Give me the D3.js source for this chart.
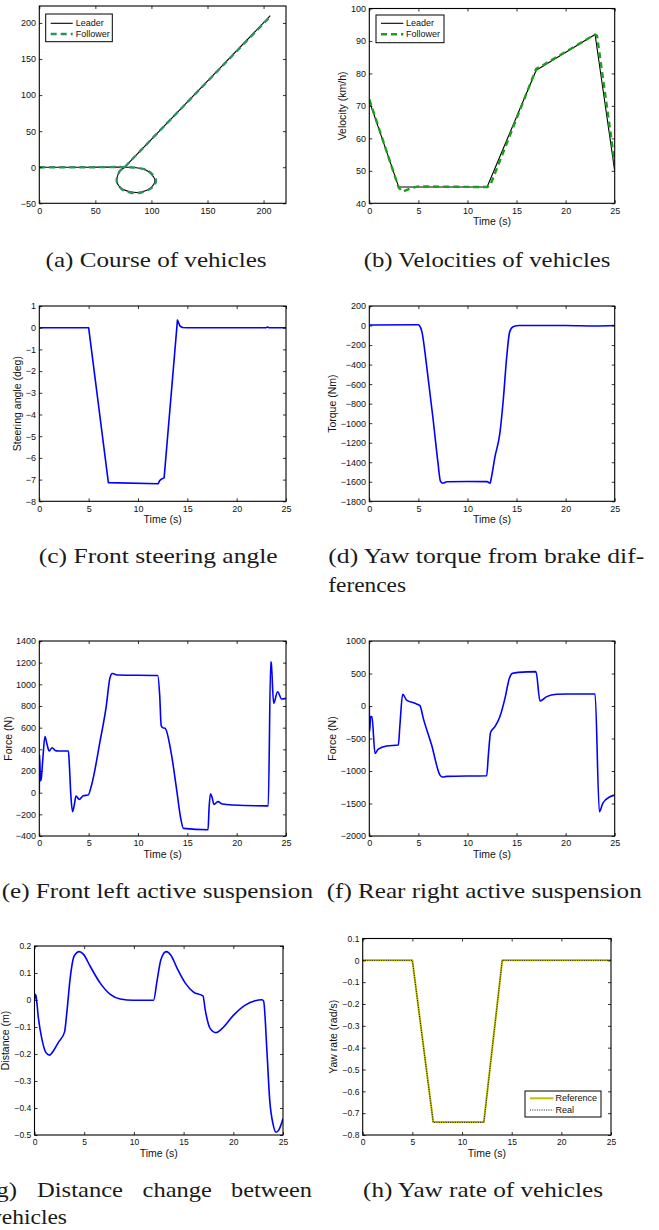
<!DOCTYPE html>
<html>
<head>
<meta charset="utf-8">
<script src="https://cdn.jsdelivr.net/npm/d3@7/dist/d3.min.js"></script>
<style>
html,body{margin:0;padding:0;background:#fff;}
svg{display:block;}
</style>
</head>
<body>
<svg id="fig" width="659" height="1230"></svg>
<script>
// ================= DATA =================
// (a) Course of vehicles (x [m], y [m])
const courseLeaderX = [0, 40, 80, 88, 95, 100, 103, 102, 98, 92, 87, 81, 75, 71, 69, 70, 72, 76, 80, 206];
const courseLeaderY = [0, 0, 0, -1, -4, -10, -17, -24, -30, -34, -35, -34, -31, -26, -19, -11, -5, 0, 6.5, 210];
const courseFollowerX = [0, 40, 80, 88, 96, 101, 104, 103, 99, 93, 87, 81, 75, 71, 69, 70, 72, 76, 80, 206];
const courseFollowerY = [0, 0, 0, -1, -4, -10, -17, -24, -30, -34, -36, -35, -32, -26, -19, -11, -5, 0, 6.5, 209];
const courseXTicks = [0, 50, 100, 150, 200];
const courseYTicks = [-50, 0, 50, 100, 150, 200];

// (b) Velocities of vehicles (km/h)
const velLeaderT = [0, 3, 12, 17, 23, 25];
const velLeader = [71.5, 45, 45, 81, 92, 50];
const velFollowerT = [0, 3, 3.4, 4.2, 5, 12, 12.3, 17, 17.5, 23, 23.2, 25];
const velFollower = [72, 44.8, 43.6, 44.6, 45.2, 45, 45.4, 81.4, 82.2, 92, 91.6, 52.5];
const velYTicks = [40, 50, 60, 70, 80, 90, 100];

// common time ticks
const timeTicks = [0, 5, 10, 15, 20, 25];

// (c) Front steering angle (deg)
const steerT = [0, 5, 7, 12.05, 12.2, 12.4, 12.65, 14, 14.1, 14.25, 14.5, 15, 23, 23.1, 23.3, 25];
const steer = [0, 0, -7.14, -7.19, -7.05, -6.97, -6.92, 0.35, 0.25, 0.08, 0.01, 0, 0, 0.03, 0, 0];
const steerYTicks = [-8, -7, -6, -5, -4, -3, -2, -1, 0, 1];

// (d) Yaw torque (Nm)
const torqueT = [0, 5, 5.1, 5.35, 5.85, 6.5, 7.0, 7.25, 7.5, 7.9, 10, 12.0, 12.3, 12.45, 12.8, 13.3, 13.65, 14.0, 14.3, 14.65, 15.3, 20, 23, 25];
const torque = [5, 8, 0, -60, -420, -960, -1410, -1595, -1615, -1600, -1598, -1598, -1615, -1550, -1345, -1105, -760, -320, -65, -12, 0, 0, -5, 0];
const torqueYTicks = [-1800, -1600, -1400, -1200, -1000, -800, -600, -400, -200, 0, 200];

// (e) Front left active suspension (N)
const flT = [0, 0.03, 0.12, 0.2, 0.35, 0.57, 0.8, 1.0, 1.3, 1.6, 1.9, 2.95, 3.05, 3.2, 3.38, 3.55, 3.72, 4.05, 4.45, 4.95, 5.3, 6.15, 6.8, 7.15, 7.4, 7.6, 8.0, 12.0, 12.2, 12.35, 12.5, 12.75, 13.4, 13.9, 14.35, 14.6, 17.1, 17.2, 17.35, 17.5, 17.7, 18.1, 18.55, 19.6, 23.0, 23.2, 23.45, 23.5, 23.75, 24.15, 24.55, 25];
const fl = [0, 350, 110, 130, 300, 517, 440, 385, 415, 390, 385, 385, 250, -30, -175, -110, -31, -62, -28, -22, 71, 471, 809, 1055, 1100, 1095, 1086, 1082, 900, 620, 600, 594, 348, 40, -246, -330, -342, -150, -10, -40, -108, -83, -105, -114, -122, -122, 1209, 1200, 825, 932, 865, 871];
const flYTicks = [-400, -200, 0, 200, 400, 600, 800, 1000, 1200, 1400];

// (f) Rear right active suspension (N)
const rrT = [0, 0.03, 0.14, 0.27, 0.58, 0.92, 1.77, 2.96, 3.12, 3.4, 3.8, 4.65, 5.16, 5.5, 6.35, 7.2, 7.47, 7.88, 11.96, 12.13, 12.36, 12.8, 13.3, 13.82, 14.27, 14.6, 15.18, 16.98, 17.39, 18.07, 19.09, 20.1, 23.0, 23.44, 23.78, 24.52, 25];
const rr = [0, -395, -164, -164, -729, -662, -616, -600, -293, 180, 92, 41, 5, -190, -600, -1063, -1093, -1083, -1073, -755, -405, -318, -164, 118, 426, 503, 518, 529, 77, 144, 180, 185, 185, -1627, -1499, -1396, -1371];
const rrYTicks = [-2000, -1500, -1000, -500, 0, 500, 1000];

// (g) Distance change between vehicles (m)
const distT = [0, 0.07, 0.15, 0.4, 0.74, 1.14, 1.51, 1.91, 2.42, 3.02, 3.26, 3.59, 3.99, 4.5, 4.93, 5.6, 6.61, 7.62, 8.62, 9.97, 11.98, 12.32, 12.72, 13.26, 13.72, 14.33, 15.17, 16.0, 16.95, 17.18, 17.68, 18.26, 18.86, 20.03, 21.2, 22.2, 22.89, 23.05, 23.39, 23.66, 24.0, 24.3, 24.6, 25];
const dist = [0, 0.021, 0.015, -0.069, -0.144, -0.194, -0.204, -0.188, -0.156, -0.119, -0.044, 0.081, 0.163, 0.179, 0.169, 0.125, 0.0625, 0.021, 0.004, -0.001, -0.001, 0.069, 0.15, 0.179, 0.166, 0.119, 0.0625, 0.029, 0.015, -0.0375, -0.106, -0.121, -0.106, -0.056, -0.019, -0.0025, 0.001, -0.004, -0.194, -0.369, -0.46, -0.49, -0.48, -0.44];
const distYTicks = [-0.5, -0.4, -0.3, -0.2, -0.1, 0, 0.1, 0.2];

// (h) Yaw rate of vehicles (rad/s)
const yawRefT = [0, 5, 7.1, 12.2, 14.05, 25];
const yawRef = [0, 0, -0.74, -0.74, 0, 0];
const yawRealT = [0, 5, 7.1, 12.2, 14.05, 25];
const yawReal = [0, 0, -0.742, -0.742, 0, 0];
const yawYTicks = [-0.8, -0.7, -0.6, -0.5, -0.4, -0.3, -0.2, -0.1, 0, 0.1];

// ================= DRAWING =================
const svg = d3.select("#fig");
const defs = svg.append("defs");
const SANS = "'Liberation Sans', Arial, Helvetica, sans-serif";
const SERIF = "'Liberation Serif', 'Times New Roman', serif";
const BLUE = "#0000ff";

function drawPanel(p) {
  const x = d3.scaleLinear().domain(p.xDomain).range([p.l, p.r]);
  const y = d3.scaleLinear().domain(p.yDomain).range([p.b, p.t]);
  const g = svg.append("g");
  const clipId = "clip-" + p.id;
  defs.append("clipPath").attr("id", clipId).append("rect")
    .attr("x", p.l).attr("y", p.t).attr("width", p.r - p.l).attr("height", p.b - p.t);
  g.append("rect").attr("x", p.l).attr("y", p.t).attr("width", p.r - p.l).attr("height", p.b - p.t)
    .attr("fill", "#fff");
  const plot = g.append("g").attr("clip-path", `url(#${clipId})`);
  p.series.forEach(s => {
    const pts = s.xs.map((v, i) => [v, s.ys[i]]);
    plot.append("path").datum(pts)
      .attr("d", d3.line().curve(s.curve || d3.curveLinear).x(d => x(d[0])).y(d => y(d[1])))
      .attr("fill", "none").attr("stroke", s.color).attr("stroke-width", s.width)
      .attr("stroke-dasharray", s.dash || null)
      .attr("stroke-linejoin", "round");
  });
  const fs = p.fontSize || 9;
  const fmt = d3.format("");
  const styleAxis = sel => {
    sel.select(".domain").remove();
    sel.selectAll("line").attr("stroke", "#000").attr("stroke-width", 0.8);
    sel.selectAll("text").attr("font-family", SANS).attr("font-size", fs).attr("fill", "#111");
  };
  g.append("g").attr("transform", `translate(0,${p.b})`)
    .call(d3.axisBottom(x).tickValues(p.xTicks).tickSize(-3).tickPadding(4).tickFormat(fmt)).call(styleAxis);
  g.append("g").attr("transform", `translate(${p.l},0)`)
    .call(d3.axisLeft(y).tickValues(p.yTicks).tickSize(-3).tickPadding(3.3).tickFormat(fmt)).call(styleAxis);
  g.append("g").attr("transform", `translate(0,${p.t})`)
    .call(d3.axisTop(x).tickValues(p.xTicks).tickSize(-3).tickFormat("")).call(styleAxis);
  g.append("g").attr("transform", `translate(${p.r},0)`)
    .call(d3.axisRight(y).tickValues(p.yTicks).tickSize(-3).tickFormat("")).call(styleAxis);
  g.append("rect").attr("x", p.l).attr("y", p.t).attr("width", p.r - p.l).attr("height", p.b - p.t)
    .attr("fill", "none").attr("stroke", "#000").attr("stroke-width", 1.1);

  if (p.xLabel) {
    g.append("text").attr("x", (p.l + p.r) / 2).attr("y", p.b + 18.5).attr("dy", "0.35em")
      .attr("text-anchor", "middle").attr("font-family", SANS).attr("font-size", 10.5).attr("fill", "#111")
      .text(p.xLabel);
  }
  if (p.yLabel) {
    g.append("text").attr("transform", `translate(${p.yLabelX},${(p.t + p.b) / 2}) rotate(-90)`)
      .attr("dy", "0.35em").attr("text-anchor", "middle").attr("font-family", SANS)
      .attr("font-size", 10.5).attr("fill", "#111").text(p.yLabel);
  }
  if (p.legend) {
    const L = p.legend;
    const lg = g.append("g");
    lg.append("rect").attr("x", L.x).attr("y", L.y).attr("width", L.w).attr("height", L.h)
      .attr("fill", "#fff").attr("stroke", "#000").attr("stroke-width", 1);
    L.items.forEach((it, i) => {
      const s = p.series[it.series];
      const yy = L.rows[i];
      lg.append("line").attr("x1", L.lx1).attr("x2", L.lx2).attr("y1", yy).attr("y2", yy)
        .attr("stroke", s.color).attr("stroke-width", s.width).attr("stroke-dasharray", s.dash || null);
      lg.append("text").attr("x", L.tx).attr("y", yy).attr("dy", "0.35em")
        .attr("font-family", SANS).attr("font-size", 9).attr("fill", "#111").text(it.label);
    });
  }
}

const SMOOTH = d3.curveMonotoneX;
const panels = [
  { id: "a", l: 39.3, r: 286, t: 6, b: 203.3, xDomain: [0, 220], yDomain: [-50, 223.5],
    xTicks: courseXTicks, yTicks: courseYTicks,
    series: [
      { xs: courseLeaderX, ys: courseLeaderY, color: "#000", width: 1.1, curve: d3.curveCatmullRom },
      { xs: courseFollowerX, ys: courseFollowerY, color: "#2f9060", width: 2.4, dash: "6,4", curve: d3.curveCatmullRom }
    ],
    legend: { x: 45.7, y: 14, w: 66.6, h: 27.7, lx1: 50.7, lx2: 72.7, tx: 75.7, rows: [23.3, 34],
      items: [{ series: 0, label: "Leader" }, { series: 1, label: "Follower" }] } },
  { id: "b", l: 369.3, r: 614.7, t: 8.5, b: 203.3, xDomain: [0, 25], yDomain: [40, 100],
    xTicks: timeTicks, yTicks: velYTicks, xLabel: "Time (s)", yLabel: "Velocity (km/h)", yLabelX: 342.7,
    series: [
      { xs: velLeaderT, ys: velLeader, color: "#000", width: 1.1 },
      { xs: velFollowerT, ys: velFollower, color: "#1e9e1e", width: 2.4, dash: "6,4" }
    ],
    legend: { x: 376, y: 15, w: 68, h: 27.7, lx1: 381, lx2: 403.3, tx: 406, rows: [23.3, 34.3],
      items: [{ series: 0, label: "Leader" }, { series: 1, label: "Follower" }] } },
  { id: "c", l: 39.3, r: 286, t: 306, b: 501.3, xDomain: [0, 25], yDomain: [-8, 1],
    xTicks: timeTicks, yTicks: steerYTicks, xLabel: "Time (s)", yLabel: "Steering angle (deg)", yLabelX: 17.3,
    series: [{ xs: steerT, ys: steer, color: BLUE, width: 1.6 }] },
  { id: "d", l: 369.3, r: 614.7, t: 306, b: 501.3, xDomain: [0, 25], yDomain: [-1800, 200],
    xTicks: timeTicks, yTicks: torqueYTicks, xLabel: "Time (s)", yLabel: "Torque (Nm)", yLabelX: 332.3,
    series: [{ xs: torqueT, ys: torque, color: BLUE, width: 1.6, curve: SMOOTH }] },
  { id: "e", l: 39.3, r: 286, t: 641, b: 836, xDomain: [0, 25], yDomain: [-400, 1400],
    xTicks: timeTicks, yTicks: flYTicks, xLabel: "Time (s)", yLabel: "Force (N)", yLabelX: 8,
    series: [{ xs: flT, ys: fl, color: BLUE, width: 1.6, curve: SMOOTH }] },
  { id: "f", l: 369.3, r: 614.7, t: 641, b: 836, xDomain: [0, 25], yDomain: [-2000, 1000],
    xTicks: timeTicks, yTicks: rrYTicks, xLabel: "Time (s)", yLabel: "Force (N)", yLabelX: 332.7,
    series: [{ xs: rrT, ys: rr, color: BLUE, width: 1.6, curve: SMOOTH }] },
  { id: "g", l: 34.5, r: 283, t: 946, b: 1135, xDomain: [0, 25], yDomain: [-0.5, 0.2], fontSize: 8.5,
    xTicks: timeTicks, yTicks: distYTicks, xLabel: "Time (s)", yLabel: "Distance (m)", yLabelX: 5.5,
    series: [{ xs: distT, ys: dist, color: BLUE, width: 1.6, curve: SMOOTH }] },
  { id: "h", l: 362.7, r: 611, t: 938.5, b: 1135, xDomain: [0, 25], yDomain: [-0.8, 0.1], fontSize: 8.5,
    xTicks: timeTicks, yTicks: yawYTicks, xLabel: "Time (s)", yLabel: "Yaw rate (rad/s)", yLabelX: 333.3,
    series: [
      { xs: yawRefT, ys: yawRef, color: "#bfbf00", width: 2 },
      { xs: yawRealT, ys: yawReal, color: "#000", width: 0.9, dash: "1,1.3" }
    ],
    legend: { x: 525, y: 1091, w: 76, h: 26, lx1: 530, lx2: 553.3, tx: 555.5, rows: [1098.3, 1110],
      items: [{ series: 0, label: "Reference" }, { series: 1, label: "Real" }] } }
];
panels.forEach(drawPanel);

// ================= CAPTIONS =================
const captions = [
  { text: "(a) Course of vehicles", x: 45.6, y: 267, w: 221 },
  { text: "(b) Velocities of vehicles", x: 363.7, y: 267, w: 246.8 },
  { text: "(c) Front steering angle", x: 38.8, y: 563.3, w: 238.8 },
  { text: "(d) Yaw torque from brake dif-", x: 328.3, y: 563.3, w: 316 },
  { text: "ferences", x: 328.3, y: 591.7, w: 77.7 },
  { text: "(e) Front left active suspension", x: 1.7, y: 897.7, w: 311.3 },
  { text: "(f) Rear right active suspension", x: 326.7, y: 897.7, w: 315 },
  { text: "(g)", x: -12, y: 1196.7, w: 29 },
  { text: "Distance", x: 37, y: 1196.7, w: 86 },
  { text: "change", x: 142.6, y: 1196.7, w: 69.4 },
  { text: "between", x: 231, y: 1196.7, w: 81 },
  { text: "vehicles", x: -10, y: 1224.3, w: 77 },
  { text: "(h) Yaw rate of vehicles", x: 363, y: 1196.7, w: 240 }
];
svg.append("g").selectAll("text").data(captions).join("text")
  .attr("x", d => d.x).attr("y", d => d.y)
  .attr("textLength", d => d.w).attr("lengthAdjust", "spacingAndGlyphs")
  .attr("font-family", SERIF).attr("font-size", 21).attr("fill", "#1a1a1a")
  .text(d => d.text);
</script>
</body>
</html>
